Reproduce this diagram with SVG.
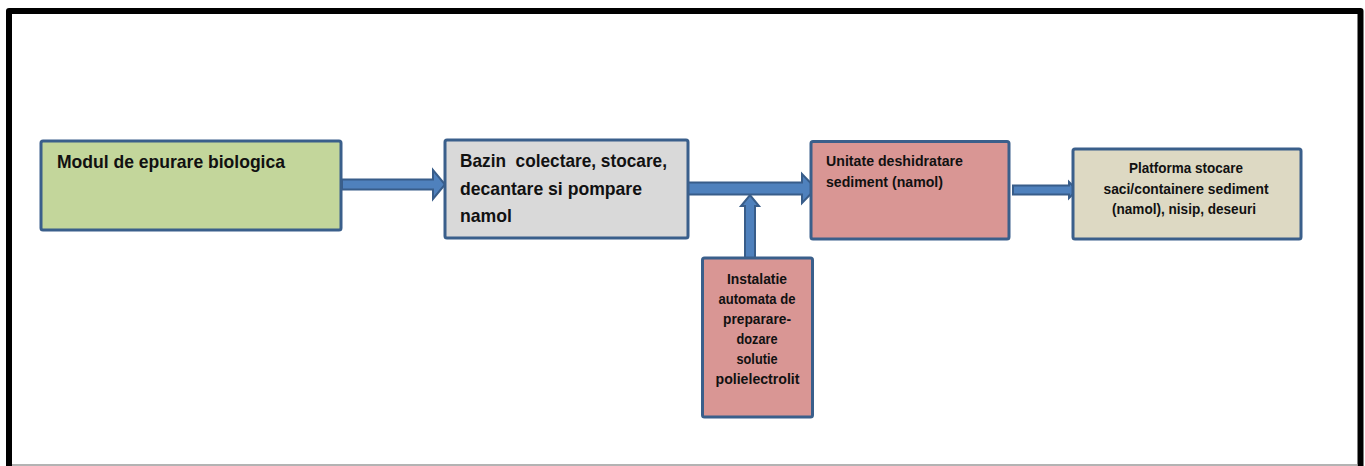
<svg xmlns="http://www.w3.org/2000/svg" width="1365" height="466" viewBox="0 0 1365 466">
  <style>
    .box { stroke: #3a5f8b; stroke-width: 3; }
    .arrow { fill: #4f81bd; stroke: #385d8a; stroke-width: 2; stroke-linejoin: miter; }
    text { font-family: "Liberation Sans", Arial, sans-serif; font-weight: bold; fill: #111; }
    .big { font-size: 18.5px; }
    .small { font-size: 15px; }
    .mid { text-anchor: middle; }
  </style>

  <!-- page background and frame -->
  <rect x="0" y="0" width="1365" height="466" fill="#ffffff"/>
  <path d="M9,470 V11 H1360.5 V470" fill="none" stroke="#000" stroke-width="6" stroke-linejoin="round"/>
  <line x1="12" y1="465" x2="1358" y2="465" stroke="#9a9a9a" stroke-width="1.5"/>

  <!-- connectors -->
  <g id="connectors">
    <polygon class="arrow" points="342,179.5 433,179.5 433,170 445,184.5 433,199 433,189.5 342,189.5"/>
    <polygon class="arrow" points="745,258 745,206 741,206 750,195 759,206 755,206 755,258"/>
    <polygon class="arrow" points="688,182.5 802,182.5 802,174 816,188.5 802,203 802,194.5 688,194.5"/>
    <polygon class="arrow" points="1013,185.5 1069,185.5 1069,182 1077,190 1069,198 1069,194.5 1013,194.5"/>
  </g>

  <!-- biological treatment module -->
  <g id="node-modul">
    <rect class="box" x="41" y="141" width="300" height="89" rx="2" fill="#c3d69b"/>
    <text class="big" x="57" y="168" textLength="228" lengthAdjust="spacingAndGlyphs">Modul de epurare biologica</text>
  </g>

  <!-- collection / storage basin -->
  <g id="node-bazin">
    <rect class="box" x="445" y="140" width="243" height="98" rx="2" fill="#d9d9d9"/>
    <text class="big" x="460" y="167" textLength="207" lengthAdjust="spacingAndGlyphs" xml:space="preserve">Bazin  colectare, stocare,</text>
    <text class="big" x="460" y="195" textLength="182" lengthAdjust="spacingAndGlyphs">decantare si pompare</text>
    <text class="big" x="460" y="222" textLength="52" lengthAdjust="spacingAndGlyphs">namol</text>
  </g>

  <!-- dewatering unit -->
  <g id="node-deshidratare">
    <rect class="box" x="811" y="141.5" width="198" height="97.5" rx="2" fill="#d99694"/>
    <text class="small" x="826" y="166" textLength="137" lengthAdjust="spacingAndGlyphs">Unitate deshidratare</text>
    <text class="small" x="826" y="187" textLength="117" lengthAdjust="spacingAndGlyphs">sediment (namol)</text>
  </g>

  <!-- storage platform -->
  <g id="node-platforma">
    <rect class="box" x="1073" y="149" width="228" height="90" rx="2" fill="#ddd9c3"/>
    <text class="small mid" x="1186" y="173" textLength="114" lengthAdjust="spacingAndGlyphs">Platforma stocare</text>
    <text class="small mid" x="1186" y="193.5" textLength="165" lengthAdjust="spacingAndGlyphs">saci/containere sediment</text>
    <text class="small mid" x="1184" y="214" textLength="144" lengthAdjust="spacingAndGlyphs">(namol), nisip, deseuri</text>
  </g>

  <!-- polyelectrolyte dosing installation -->
  <g id="node-instalatie">
    <rect class="box" x="702.5" y="258" width="110" height="159" rx="2" fill="#d99694"/>
    <text class="small mid" x="757" y="284" textLength="60" lengthAdjust="spacingAndGlyphs">Instalatie</text>
    <text class="small mid" x="757" y="304" textLength="77" lengthAdjust="spacingAndGlyphs">automata de</text>
    <text class="small mid" x="757" y="324" textLength="68" lengthAdjust="spacingAndGlyphs">preparare-</text>
    <text class="small mid" x="757" y="344" textLength="41" lengthAdjust="spacingAndGlyphs">dozare</text>
    <text class="small mid" x="757" y="364" textLength="41" lengthAdjust="spacingAndGlyphs">solutie</text>
    <text class="small mid" x="757.5" y="384" textLength="84" lengthAdjust="spacingAndGlyphs">polielectrolit</text>
  </g>
</svg>
